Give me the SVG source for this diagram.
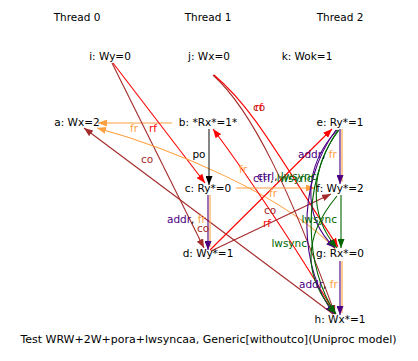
<svg xmlns="http://www.w3.org/2000/svg" width="418" height="361" viewBox="0 0 418 361">
<style>
text{font-family:"DejaVu Sans","Liberation Sans",sans-serif;font-size:10.5px;fill:#000}
.n{text-anchor:middle}
.cap{font-size:11px}
.l{font-size:10.5px}
.e{fill:none;stroke-width:1.1}
.rf{stroke:#ff0000}.co{stroke:#a52a2a}.fr{stroke:#ffa040}.po{stroke:#222}.ad{stroke:#4b0082}.lw{stroke:#006400}
.trf{fill:#ff0000}.tco{fill:#a52a2a}.tfr{fill:#ffa040}.tad{fill:#4b0082}.tlw{fill:#006400}
</style>
<defs>
<marker id="arf" viewBox="0 0 9 7" refX="9" refY="3.5" markerWidth="9" markerHeight="7" orient="auto" markerUnits="userSpaceOnUse"><path d="M0,0L9,3.5L0,7z" fill="#ff0000"/></marker>
<marker id="aco" viewBox="0 0 9 7" refX="9" refY="3.5" markerWidth="9" markerHeight="7" orient="auto" markerUnits="userSpaceOnUse"><path d="M0,0L9,3.5L0,7z" fill="#a52a2a"/></marker>
<marker id="afr" viewBox="0 0 9 7" refX="9" refY="3.5" markerWidth="9" markerHeight="7" orient="auto" markerUnits="userSpaceOnUse"><path d="M0,0L9,3.5L0,7z" fill="#ffa040"/></marker>
<marker id="apo" viewBox="0 0 9 7" refX="9" refY="3.5" markerWidth="9" markerHeight="7" orient="auto" markerUnits="userSpaceOnUse"><path d="M0,0L9,3.5L0,7z" fill="#000"/></marker>
<marker id="aad" viewBox="0 0 9 7" refX="9" refY="3.5" markerWidth="9" markerHeight="7" orient="auto" markerUnits="userSpaceOnUse"><path d="M0,0L9,3.5L0,7z" fill="#4b0082"/></marker>
<marker id="alw" viewBox="0 0 9 7" refX="9" refY="3.5" markerWidth="9" markerHeight="7" orient="auto" markerUnits="userSpaceOnUse"><path d="M0,0L9,3.5L0,7z" fill="#006400"/></marker>
</defs>
<rect width="418" height="361" fill="#fff"/>
<g id="headers">
<text class="n" x="77" y="21">Thread 0</text>
<text class="n" x="208" y="21">Thread 1</text>
<text class="n" x="340" y="21">Thread 2</text>
</g>
<g id="edges">
<path class="e fr" d="M172,123L98,123" marker-end="url(#afr)"/>
<path class="e rf" d="M113,63L205,183" marker-end="url(#arf)"/>
<path class="e co" d="M112,63L204,248" marker-end="url(#aco)"/>
<path class="e co" d="M333,314L84,128" marker-end="url(#aco)"/>
<path class="e fr" d="M336,250C285,195 170,148 97,128" marker-end="url(#afr)"/>
<path class="e co" d="M213,75C252,110 290,190 335,314" marker-end="url(#aco)"/>
<path class="e rf" d="M214,75C252,107 275,150 338,247" marker-end="url(#arf)"/>
<path class="e rf" d="M335,314C310,270 255,185 213,129" marker-end="url(#arf)"/>
<path class="e rf" d="M210,250L332,129" marker-end="url(#arf)"/>
<path class="e co" d="M211,251L331,194" marker-end="url(#aco)"/>
<path class="e fr" d="M236,188L315,188" marker-end="url(#afr)"/>
<path class="e po" d="M209,129L209,185" marker-end="url(#apo)"/>
<path class="e fr" d="M210,195L210,247"/>
<path class="e ad" d="M208,195L208,250" marker-end="url(#aad)"/>
<path class="e fr" d="M342,129L342,182"/>
<path class="e ad" d="M340,129L340,184" marker-end="url(#aad)"/>
<path class="e lw" d="M341,195L341,248" marker-end="url(#alw)"/>
<path class="e fr" d="M342,261L342,313"/>
<path class="e ad" d="M340,261L340,315" marker-end="url(#aad)"/>
<path class="e ad" d="M337,130C305,165 300,215 335,248" marker-end="url(#aad)"/>
<path class="e lw" d="M339,130C310,168 308,215 337,248" marker-end="url(#alw)"/>
<path class="e ad" d="M336,130C295,185 300,270 334,314" marker-end="url(#aad)"/>
<path class="e lw" d="M338,130C300,185 305,270 336,314" marker-end="url(#alw)"/>
<path class="e lw" d="M337,196C300,240 305,280 336,314" marker-end="url(#alw)"/>
<text class="l tfr" x="134" y="132" text-anchor="middle">fr</text>
<text class="l trf" x="153" y="132" text-anchor="middle">rf</text>
<text class="l tco" x="147" y="163" text-anchor="middle">co</text>
<text class="l" x="199" y="158" text-anchor="middle">po</text>
<text class="l" x="167" y="223"><tspan class="tad">addr</tspan>, <tspan class="tfr">fr</tspan></text>
<text class="l tco" x="203" y="232" text-anchor="middle">co</text>
<text class="l tfr" x="243" y="173" text-anchor="middle">fr</text>
<text class="l tco" x="259" y="111" text-anchor="middle">co</text>
<text class="l trf" x="259" y="111" text-anchor="middle">rf</text>
<text class="l" x="253" y="182"><tspan class="tad">ctrl</tspan>, <tspan class="tlw">lwsync</tspan></text>
<text class="l" x="257" y="180"><tspan class="tad">ctrl</tspan>, <tspan class="tlw">lwsync</tspan></text>
<text class="l tfr" x="273" y="197" text-anchor="middle">fr</text>
<text class="l tco" x="270" y="214" text-anchor="middle">co</text>
<text class="l trf" x="267" y="227" text-anchor="middle">rf</text>
<text class="l" x="298" y="158"><tspan class="tad">addr</tspan>, <tspan class="tfr">fr</tspan></text>
<text class="l tlw" x="337" y="223" text-anchor="end">lwsync</text>
<text class="l tlw" x="307" y="247" text-anchor="end">lwsync</text>
<text class="l" x="299" y="288"><tspan class="tad">addr</tspan>, <tspan class="tfr">fr</tspan></text>
</g>
<g id="i"><text class="n" x="110" y="60">i: Wy=0</text></g>
<g id="j"><text class="n" x="209" y="60">j: Wx=0</text></g>
<g id="k"><text class="n" x="307" y="60">k: Wok=1</text></g>
<g id="a"><text class="n" x="77" y="126">a: Wx=2</text></g>
<g id="b"><text class="n" x="208" y="126">b: *Rx*=1*</text></g>
<g id="e"><text class="n" x="340" y="126">e: Ry*=1</text></g>
<g id="c"><text class="n" x="208" y="192">c: Ry*=0</text></g>
<g id="f"><text class="n" x="340" y="192">f: Wy*=2</text></g>
<g id="d"><text class="n" x="208" y="257">d: Wy*=1</text></g>
<g id="g"><text class="n" x="340" y="257">g: Rx*=0</text></g>
<g id="h"><text class="n" x="340" y="323">h: Wx*=1</text></g>
<g id="caption"><text class="n cap" x="208.5" y="343">Test WRW+2W+pora+lwsyncaa, Generic[withoutco](Uniproc model)</text></g>
</svg>
